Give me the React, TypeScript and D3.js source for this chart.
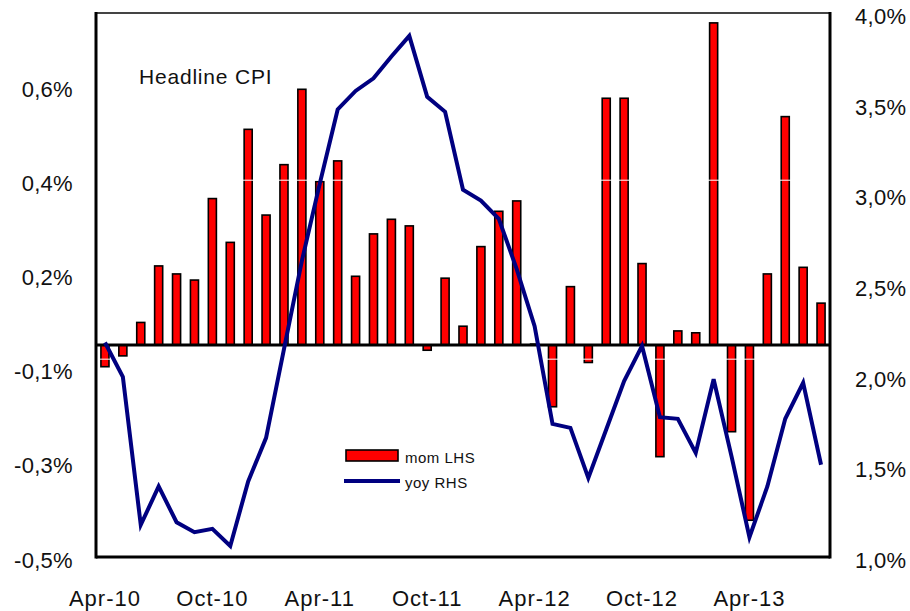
import React, { useRef, useEffect } from "react";
import * as d3 from "d3";

// monthly categories, Apr-10 .. Aug-13
const months = [
  "Apr-10", "May-10", "Jun-10", "Jul-10", "Aug-10", "Sep-10", "Oct-10", "Nov-10", "Dec-10",
  "Jan-11", "Feb-11", "Mar-11", "Apr-11", "May-11", "Jun-11", "Jul-11", "Aug-11", "Sep-11",
  "Oct-11", "Nov-11", "Dec-11", "Jan-12", "Feb-12", "Mar-12", "Apr-12", "May-12", "Jun-12",
  "Jul-12", "Aug-12", "Sep-12", "Oct-12", "Nov-12", "Dec-12", "Jan-13", "Feb-13", "Mar-13",
  "Apr-13", "May-13", "Jun-13", "Jul-13", "Aug-13",
];

// month-on-month change, % (LHS)
const mom = [
  -0.046, -0.023, 0.048, 0.168, 0.151, 0.138, 0.311, 0.218, 0.458,
  0.276, 0.383, 0.543, 0.347, 0.391, 0.146, 0.236, 0.267, 0.253,
  -0.011, 0.142, 0.04, 0.209, 0.284, 0.306, 0.002, -0.131, 0.124,
  -0.037, 0.524, 0.524, 0.173, -0.237, 0.03, 0.026, 0.684, -0.184,
  -0.372, 0.151, 0.485, 0.165, 0.089,
];

// year-on-year, % (RHS)
const yoy = [
  2.183, 1.994, 1.177, 1.389, 1.192, 1.137, 1.155, 1.061, 1.417,
  1.657, 2.146, 2.633, 3.059, 3.468, 3.57, 3.64, 3.76, 3.874,
  3.538, 3.455, 3.025, 2.966, 2.865, 2.588, 2.273, 1.734, 1.712,
  1.436, 1.703, 1.97, 2.164, 1.771, 1.762, 1.574, 1.98, 1.555,
  1.109, 1.389, 1.762, 1.961, 1.509,
];

const leftTicks = [-0.45, -0.25, -0.05, 0.15, 0.35, 0.55];
const leftTickLabels = ["-0,5%", "-0,3%", "-0,1%", "0,2%", "0,4%", "0,6%"];
const rightTicks = [1.0, 1.5, 2.0, 2.5, 3.0, 3.5, 4.0];
const rightTickLabels = ["1,0%", "1,5%", "2,0%", "2,5%", "3,0%", "3,5%", "4,0%"];
const xLabelMonths = ["Apr-10", "Oct-10", "Apr-11", "Oct-11", "Apr-12", "Oct-12", "Apr-13"];
const faintGrid = [0.35, -0.03];

function App() {
  const svgRef = useRef(null);
  const width = 910;
  const height = 611;

  useEffect(() => {
    const svg = d3.select(svgRef.current);
    svg.selectAll("*").remove();

    const left = 96, right = 830, top = 13, bottom = 557;
    const font = "'Liberation Sans', Arial, sans-serif";

    const x = d3.scaleBand().domain(months).range([left, right])
      .paddingInner(0.55).paddingOuter(0.275);
    const cx = (m) => x(m) + x.bandwidth() / 2;
    const yL = d3.scaleLinear().domain([-0.45, 0.705]).range([bottom, top]);
    const yR = d3.scaleLinear().domain([1.0, 4.0]).range([bottom, top]);

    // bars
    svg.selectAll("rect.bar")
      .data(mom)
      .enter()
      .append("rect")
      .attr("class", "bar")
      .attr("x", (d, i) => x(months[i]))
      .attr("y", (d) => yL(Math.max(0, d)))
      .attr("width", x.bandwidth())
      .attr("height", (d) => Math.abs(yL(d) - yL(0)))
      .style("fill", "#ff0000")
      .style("stroke", "#000")
      .style("stroke-width", 1.6);

    // faint white gridlines, only visible over the bars
    svg.selectAll("line.grid")
      .data(faintGrid)
      .enter()
      .append("line")
      .attr("x1", left)
      .attr("x2", right)
      .attr("y1", (d) => yL(d))
      .attr("y2", (d) => yL(d))
      .style("stroke", "#fff")
      .style("stroke-width", 1);

    // zero line
    svg.append("line")
      .attr("x1", left).attr("x2", right)
      .attr("y1", yL(0)).attr("y2", yL(0))
      .style("stroke", "#000").style("stroke-width", 3);

    // yoy line
    const line = d3.line()
      .x((d, i) => cx(months[i]))
      .y((d) => yR(d));
    svg.append("path")
      .datum(yoy)
      .attr("d", line)
      .attr("fill", "none")
      .attr("stroke", "#000080")
      .attr("stroke-width", 4)
      .attr("stroke-linejoin", "miter");

    // frame
    svg.append("line").attr("x1", left).attr("x2", right).attr("y1", top).attr("y2", top)
      .style("stroke", "#444").style("stroke-width", 2);
    svg.append("line").attr("x1", left).attr("x2", left).attr("y1", top - 1).attr("y2", bottom + 1.5)
      .style("stroke", "#000").style("stroke-width", 3);
    svg.append("line").attr("x1", right).attr("x2", right).attr("y1", top - 1).attr("y2", bottom + 1.5)
      .style("stroke", "#000").style("stroke-width", 3);
    svg.append("line").attr("x1", left).attr("x2", right).attr("y1", bottom).attr("y2", bottom)
      .style("stroke", "#000").style("stroke-width", 3);

    // left axis labels
    svg.selectAll("text.yl")
      .data(leftTicks)
      .enter()
      .append("text")
      .attr("x", 73)
      .attr("y", (d) => yL(d) + 10.5)
      .attr("text-anchor", "end")
      .style("font-family", font)
      .style("font-size", "22px")
      .style("letter-spacing", "0.3px")
      .style("fill", "#111")
      .text((d, i) => leftTickLabels[i]);

    // right axis labels
    svg.selectAll("text.yr")
      .data(rightTicks)
      .enter()
      .append("text")
      .attr("x", 855)
      .attr("y", (d) => yR(d) + 11)
      .attr("text-anchor", "start")
      .style("font-family", font)
      .style("font-size", "22px")
      .style("letter-spacing", "0.3px")
      .style("fill", "#111")
      .text((d, i) => rightTickLabels[i]);

    // x labels
    svg.selectAll("text.xl")
      .data(xLabelMonths)
      .enter()
      .append("text")
      .attr("x", (d) => cx(d))
      .attr("y", 606)
      .attr("text-anchor", "middle")
      .style("font-family", font)
      .style("font-size", "22px")
      .style("letter-spacing", "1px")
      .style("fill", "#111")
      .text((d) => d);

    // title
    svg.append("text")
      .attr("x", 139)
      .attr("y", 84)
      .style("font-family", font)
      .style("font-size", "21px")
      .style("letter-spacing", "0.8px")
      .style("fill", "#111")
      .text("Headline CPI");

    // legend
    svg.append("rect")
      .attr("x", 346).attr("y", 450).attr("width", 52).attr("height", 11)
      .style("fill", "#ff0000").style("stroke", "#000").style("stroke-width", 1.6);
    svg.append("text")
      .attr("x", 405).attr("y", 463)
      .style("font-family", font).style("font-size", "15px").style("letter-spacing", "0.5px")
      .style("fill", "#111")
      .text("mom LHS");
    svg.append("line")
      .attr("x1", 344).attr("x2", 400).attr("y1", 481).attr("y2", 481)
      .attr("stroke", "#000080").attr("stroke-width", 4);
    svg.append("text")
      .attr("x", 405).attr("y", 488)
      .style("font-family", font).style("font-size", "15px").style("letter-spacing", "0.5px")
      .style("fill", "#111")
      .text("yoy RHS");
  }, []);

  return (
    <svg
      ref={svgRef}
      width={width}
      height={height}
      style={{ position: "absolute", left: 0, top: 0, background: "#fff" }}
    ></svg>
  );
}

export default App;
